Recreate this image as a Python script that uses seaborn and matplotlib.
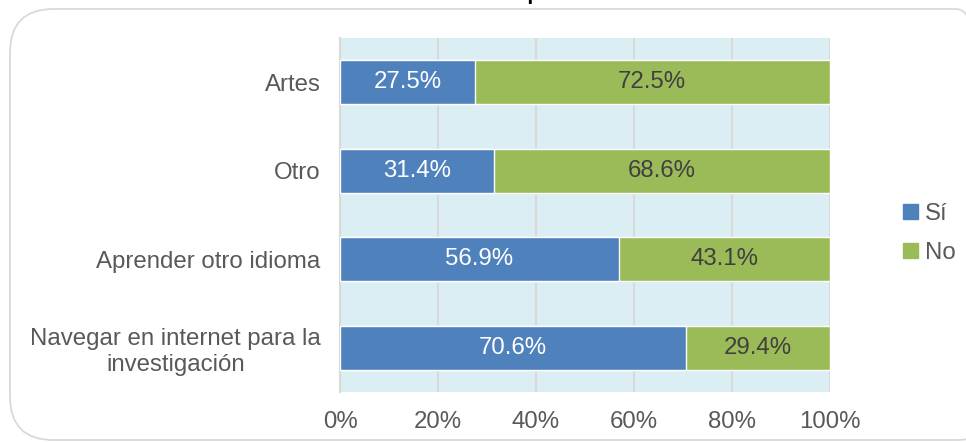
import matplotlib
matplotlib.use("Agg")
import matplotlib.pyplot as plt
from matplotlib.patches import FancyBboxPatch, Patch
import seaborn as sns
import pandas as pd

# data
categorias = ["Artes", "Otro", "Aprender otro idioma",
              "Navegar en internet para la\ninvestigación"]
si = [27.5, 31.4, 56.9, 70.6]
no = [72.5, 68.6, 43.1, 29.4]
ticks = [0, 20, 40, 60, 80, 100]
tick_labels = ["0%", "20%", "40%", "60%", "80%", "100%"]

AZUL = "#4F81BD"
VERDE = "#9BBB59"
FONDO = "#DBEEF4"
TEXTO = "#595959"
FS = 17.3

sns.set_style("white")
plt.rcParams["font.family"] = ["Liberation Sans", "DejaVu Sans"]

df = pd.DataFrame({"cat": categorias, "si": si, "no": no})
df["total"] = df["si"] + df["no"]

fig = plt.figure(figsize=(9.66, 4.42), dpi=100)
ax = fig.add_axes([0.352, 0.113, 0.507, 0.801])
ax.set_facecolor(FONDO)

# stacked bars: total in green first, then "Sí" on top
sns.barplot(data=df, x="total", y="cat", color=VERDE, width=0.5,
            saturation=1, ax=ax, orient="h", zorder=3)
sns.barplot(data=df, x="si", y="cat", color=AZUL, width=0.5,
            saturation=1, ax=ax, orient="h", zorder=3)

n = len(categorias)
verdes = ax.containers[0]
azules = ax.containers[1]
for i in range(n):
    b = azules[i]
    ax.text(b.get_x() + b.get_width() / 2, b.get_y() + b.get_height() / 2,
            f"{si[i]:.1f}%", ha="center", va="center", color="white",
            fontsize=FS, zorder=4)
    g = verdes[i]
    xc = si[i] + no[i] / 2
    ax.text(xc, g.get_y() + g.get_height() / 2, f"{no[i]:.1f}%",
            ha="center", va="center", color="#404040", fontsize=FS, zorder=4)

ax.set_xlim(0, 100)
ax.set_ylim(n - 0.5, -0.5)
ax.set_xticks(ticks)
ax.set_xticklabels(tick_labels)
ax.set_yticks(range(n))
ax.set_yticklabels(categorias, multialignment="center")
ax.xaxis.grid(True, color="#D9D9D9", linewidth=1.5, zorder=0)
ax.set_axisbelow(True)
ax.set_xlabel("")
ax.set_ylabel("")
ax.tick_params(axis="x", length=0, pad=14, labelsize=FS, labelcolor=TEXTO)
ax.tick_params(axis="y", length=0, pad=14, labelsize=FS, labelcolor=TEXTO)
for s in ["top", "right", "bottom"]:
    ax.spines[s].set_visible(False)
ax.spines["left"].set_color("#D9D9D9")
ax.spines["left"].set_linewidth(1.5)

handles = [Patch(color=AZUL, label="Sí"), Patch(color=VERDE, label="No")]
fig.legend(handles=handles, loc="center left", bbox_to_anchor=(0.925, 0.472),
           frameon=False, fontsize=FS, labelcolor=TEXTO, handlelength=0.6,
           handleheight=0.6, handletextpad=0.3, labelspacing=0.7,
           borderaxespad=0)

# rounded chart border
W, H = 966, 442
box = FancyBboxPatch((10 / W, 2 / H), (1000 - 10) / W, (433 - 2) / H,
                     boxstyle="round,pad=0,rounding_size=0.045",
                     transform=fig.transFigure, facecolor="none",
                     edgecolor="#D9D9D9", linewidth=1.3,
                     mutation_aspect=W / H)
fig.patches.append(box)

# title, mostly cut off at the top of the image
fig.text(0.51, 1 + 0.5 / H, "dedica su tiempo libre", ha="center",
         va="baseline", fontsize=15, fontweight="bold", color="black")

fig.savefig("out.png", dpi=100)
